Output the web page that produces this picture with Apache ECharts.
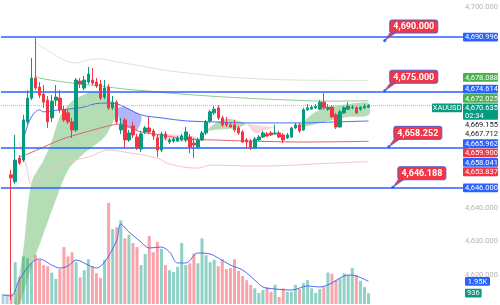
<!DOCTYPE html>
<html lang="en">
<head>
<meta charset="UTF-8">
<title>XAUUSD</title>
<script src="https://cdn.jsdelivr.net/npm/echarts@6/dist/echarts.min.js"></script>
<style>
  html, body { margin: 0; padding: 0; background: #fff; }
  #chart { width: 500px; height: 305px; }
</style>
</head>
<body>
<div id="chart"></div>
<script>
// time slots on the x axis: bars + the empty margin on the right
const slotCount = 115;
const firstBar = 2;

// candles from slot 2 on: [open, close, low, high]
const ohlc = [
  [4649.9, 4649.0, 4612.5, 4651.3], [4647.8, 4654.3, 4647.2, 4661.8], [4654.9, 4653.4, 4652.8, 4655.8],
  [4654.3, 4666.3, 4653.7, 4667.8], [4665.7, 4672.8, 4665.1, 4675.2], [4672.8, 4678.8, 4672.2, 4684.8],
  [4678.8, 4675.8, 4675.2, 4690.7], [4676.1, 4673.7, 4672.8, 4677.6], [4674.0, 4671.6, 4669.9, 4676.7],
  [4672.2, 4665.7, 4663.9, 4673.4], [4666.9, 4671.9, 4665.7, 4673.7], [4672.2, 4673.1, 4670.4, 4676.7],
  [4672.8, 4669.3, 4668.4, 4675.2], [4669.3, 4666.3, 4665.7, 4670.4], [4668.4, 4665.7, 4665.1, 4669.3],
  [4665.7, 4663.3, 4660.9, 4666.9], [4663.3, 4678.2, 4662.7, 4678.8], [4677.9, 4677.0, 4675.8, 4678.8],
  [4675.8, 4678.2, 4675.2, 4679.4], [4677.6, 4680.0, 4677.0, 4682.1], [4678.2, 4677.3, 4676.7, 4681.8],
  [4677.6, 4676.4, 4675.8, 4678.8], [4677.0, 4672.8, 4672.2, 4678.2], [4673.1, 4675.8, 4672.5, 4678.2],
  [4676.1, 4669.9, 4669.3, 4677.0], [4669.9, 4671.6, 4669.3, 4673.4], [4671.6, 4665.7, 4665.1, 4672.2],
  [4663.3, 4664.8, 4662.1, 4666.9], [4666.3, 4660.3, 4657.9, 4666.9], [4660.3, 4662.4, 4659.7, 4663.3],
  [4664.5, 4661.8, 4660.9, 4665.7], [4661.2, 4657.9, 4657.3, 4662.1], [4657.6, 4662.1, 4656.7, 4663.0],
  [4662.7, 4663.9, 4662.1, 4664.5], [4663.9, 4662.7, 4662.1, 4667.2], [4663.0, 4661.5, 4660.3, 4663.6],
  [4660.9, 4657.3, 4655.2, 4661.8], [4657.3, 4662.1, 4656.7, 4662.7], [4662.1, 4660.9, 4660.3, 4663.0],
  [4659.7, 4660.3, 4659.1, 4660.9], [4660.0, 4660.6, 4659.4, 4661.2], [4660.0, 4660.9, 4659.7, 4661.5],
  [4660.3, 4661.5, 4660.0, 4662.1], [4660.3, 4662.7, 4659.7, 4664.2], [4661.2, 4658.2, 4656.4, 4662.1],
  [4659.4, 4658.8, 4654.9, 4660.9], [4658.2, 4660.3, 4657.9, 4660.9], [4660.3, 4662.4, 4660.0, 4663.0],
  [4662.4, 4665.7, 4661.8, 4666.3], [4666.0, 4668.7, 4665.4, 4669.3], [4668.4, 4669.5, 4667.8, 4670.4],
  [4669.9, 4666.9, 4666.3, 4670.7], [4666.9, 4664.8, 4664.2, 4667.5], [4665.4, 4664.8, 4664.2, 4667.2],
  [4664.8, 4664.2, 4663.9, 4665.4], [4664.8, 4663.3, 4662.7, 4666.3], [4663.9, 4662.4, 4661.8, 4664.5],
  [4662.7, 4659.7, 4659.4, 4663.3], [4660.3, 4659.7, 4657.9, 4660.9], [4660.0, 4657.9, 4657.3, 4660.6],
  [4657.9, 4660.6, 4657.6, 4661.2], [4660.3, 4661.2, 4660.0, 4661.8], [4661.2, 4662.4, 4660.9, 4663.0],
  [4662.1, 4661.5, 4661.2, 4662.7], [4662.4, 4661.8, 4661.5, 4663.0], [4662.1, 4662.4, 4661.8, 4664.8],
  [4662.4, 4661.2, 4660.9, 4663.0], [4661.8, 4660.3, 4659.4, 4662.4], [4660.9, 4661.8, 4660.6, 4662.4],
  [4661.2, 4663.9, 4660.9, 4664.2], [4663.9, 4664.8, 4663.6, 4665.4], [4664.8, 4663.0, 4662.4, 4665.4],
  [4663.3, 4669.3, 4663.0, 4669.9], [4669.3, 4669.9, 4669.0, 4671.0], [4669.5, 4670.1, 4669.3, 4670.7],
  [4669.9, 4670.4, 4669.5, 4671.0], [4669.5, 4671.6, 4669.3, 4672.2], [4671.6, 4669.9, 4669.3, 4674.3],
  [4669.5, 4670.1, 4669.0, 4671.0], [4670.1, 4667.2, 4666.9, 4670.7], [4667.8, 4664.2, 4663.6, 4668.4],
  [4664.2, 4668.7, 4663.9, 4669.3], [4668.4, 4669.9, 4668.1, 4670.4], [4669.5, 4670.4, 4669.3, 4671.6],
  [4669.9, 4670.1, 4669.5, 4670.7], [4669.9, 4668.4, 4668.1, 4670.4], [4669.5, 4670.1, 4669.0, 4670.4],
  [4669.9, 4670.4, 4669.5, 4671.0], [4670.1, 4670.635, 4669.9, 4671.0]
];

// volume per slot, from slot 0
const volumes = [
  850, 850, 900, 3600, 2350, 4100, 3950, 3500, 4200, 3800,
  3350, 3250, 2700, 2150, 3000, 4900, 4100, 4450, 3600, 2300,
  2900, 3850, 3250, 2650, 2250, 3800, 8700, 6450, 6600, 7200,
  5650, 5950, 5250, 4900, 3350, 4300, 5850, 4450, 5350, 4750,
  3350, 2900, 2750, 3200, 5250, 3350, 3500, 4350, 3500, 5650,
  4200, 3600, 3800, 3250, 3850, 3000, 3100, 3850, 2850, 2400,
  2050, 1650, 1350, 950, 1200, 1450, 1050, 1650, 600, 1350,
  1050, 1050, 1650, 1300, 1800, 2050, 1350, 950, 1300, 1450,
  2700, 2600, 2050, 2200, 2650, 2500, 3100, 2500, 2000, 1450,
  936
];
const volumeMa = [[0, 780], [2, 690], [4, 2060], [7, 3530], [9, 3870], [12, 3350], [14, 3100], [16, 3270],
  [18, 3780], [21, 3350], [23, 3100], [25, 3610], [28, 5500], [29, 6880], [31, 6200], [34, 5330], [36, 4820],
  [39, 4900], [41, 4470], [43, 3530], [45, 3530], [48, 4390], [51, 4300], [53, 3960], [56, 3350], [59, 2920],
  [62, 2060], [64, 1460], [67, 1290], [71, 1200], [75, 1550], [78, 1460], [81, 1810], [83, 2240], [85, 2490],
  [87, 2410], [90, 1950]];

// indicator lines, [slot, price]
const maBlue = [[5, 4660.3], [6, 4664.5], [7, 4667.2], [8, 4668.7], [9, 4669.3], [10, 4668.7], [14, 4669.3],
  [19, 4669.9], [24, 4671.3], [27, 4671.3], [30, 4670.1], [34, 4667.8], [39, 4666.9], [45, 4666.0], [52, 4665.7],
  [60, 4665.4], [66, 4665.4], [74, 4665.4], [82, 4665.7], [90, 4665.962]];
const maRed = [[4, 4655.2], [6, 4656.1], [10, 4658.2], [14, 4660.3], [17, 4661.5], [24, 4663.9], [27, 4664.8],
  [29, 4665.1], [31, 4664.2], [34, 4662.7], [39, 4661.8], [45, 4660.6], [52, 4660.3], [60, 4660.0], [74, 4659.7],
  [90, 4659.9]];
const bandInner = [[8, 4679.5], [9, 4678.8], [15, 4677.6], [19, 4677.0], [24, 4676.4], [30, 4675.5], [36, 4674.9],
  [41, 4674.3], [55, 4673.1], [71, 4672.2], [80, 4671.9], [90, 4672.025]];
const bandOuter = [[8, 4689.3], [12, 4686.3], [15, 4684.2], [18, 4683.3], [21, 4684.2], [24, 4684.5], [28, 4683.6],
  [34, 4682.4], [41, 4680.9], [59, 4678.8], [80, 4678.1], [90, 4678.088]];
const bandLower = [[4, 4659.7], [6, 4651.3], [7, 4646.9], [9, 4649.0], [11, 4651.0], [16, 4653.7], [21, 4655.2],
  [26, 4657.3], [30, 4656.7], [38, 4654.9], [41, 4653.1], [48, 4651.9], [51, 4652.8], [63, 4652.5], [81, 4653.4],
  [90, 4653.837]];

// cloud edges, [slot, price]
const cloud1Top = [[3, 4612.5], [5, 4627.5], [7, 4647.5], [10, 4654.3], [12, 4660.0], [14, 4667.2], [17, 4671.9],
  [21, 4674.3], [23, 4674.6], [25, 4673.7], [27, 4671.3], [28, 4669.6]];
const cloud1Base = [[3, 4611.1], [4, 4611.1], [7, 4622.4], [10, 4632.5], [13, 4642.4], [16, 4651.3], [20, 4656.4],
  [22, 4658.2], [25, 4661.2], [27, 4665.4], [28, 4668.4]];
const cloud2Top = [[28, 4669.9], [30, 4670.1], [33, 4668.4], [34, 4667.5]];
const cloud2Base = [[28, 4669.9], [29, 4665.1], [31, 4663.9], [33, 4663.3], [34, 4666.0]];
const cloud3Top = [[36, 4662.1], [40, 4662.1], [44, 4661.8], [48, 4661.2], [49, 4660.9]];
const cloud3Base = [[36, 4662.1], [40, 4660.0], [44, 4659.7], [48, 4660.3], [49, 4660.9]];
const cloud4Top = [[50, 4663.0], [52, 4665.1], [55, 4666.6], [58, 4666.0], [60, 4665.2]];
const cloud4Base = [[50, 4663.0], [52, 4663.3], [55, 4663.6], [58, 4663.9], [60, 4665.2]];
const cloud5Top = [[60, 4665.2], [62, 4664.8], [64, 4664.5], [67, 4664.2]];
const cloud5Base = [[60, 4665.2], [62, 4662.4], [64, 4663.0], [67, 4664.2]];
const cloud6Top = [[72, 4663.9], [74, 4665.7], [77, 4668.7], [81, 4670.4], [85, 4671.0], [90, 4671.3]];
const cloud6Base = [[72, 4663.9], [74, 4664.2], [77, 4665.1], [81, 4666.3], [85, 4667.2], [90, 4667.7]];

// drawn horizontal levels and callouts
const levelLines = [4690.996, 4674.614, 4658.041, 4646.000];
const calloutSlots = [94, 94, 95, 96];
const calloutPrices = [4690.000, 4675.000, 4658.252, 4646.188];

const lastPrice = 4670.635;
const countdown = '02:34';
const symbol = 'XAUUSD';

// price scale tags, top to bottom
const tagValues = [4690.996, 4678.088, 4674.614, 4672.025, 4670.635, 4669.155, 4667.712, 4665.962, 4659.900, 4658.041, 4653.837, 4646.000];
const tagKinds = ['blue', 'green', 'blue', 'green', 'last', 'plain', 'plain', 'blue', 'red', 'blue', 'red', 'blue'];
const volTagValues = [1950, 936];
const volTagTexts = ['1.95K', '936'];
const volTagKinds = ['blue', 'last'];

const BLUE = '#2962ff', UP = '#089981', DOWN = '#f23645';
const tagColors = { blue: BLUE, green: '#4caf50', last: UP, red: DOWN, plain: null };
const FONT = 'Roboto, "Liberation Sans", sans-serif';

const chart = echarts.init(document.getElementById('chart'));

function fmt(v) {
  return v.toLocaleString('en-US', { minimumFractionDigits: 3, maximumFractionDigits: 3 });
}

const slots = Array.from({ length: slotCount }, (_, i) => i);
const candleData = slots.slice(0, firstBar + ohlc.length).map(i => ohlc[i - firstBar] || '-');
const volumeData = volumes.map((v, i) => {
  const k = ohlc[i - firstBar];
  let c = '#b9cfe6';
  if (k) c = k[1] >= k[0] ? 'rgba(8,153,129,0.45)' : 'rgba(242,54,69,0.45)';
  return { value: v, itemStyle: { color: c } };
});

function line(data, color, width) {
  return {
    type: 'line', xAxisIndex: 0, yAxisIndex: 0, data: data, smooth: 0.35,
    showSymbol: false, silent: true, z: 3, lineStyle: { color: color, width: width }
  };
}

function cloud(top, base, fill) {
  return {
    type: 'custom', xAxisIndex: 0, yAxisIndex: 0, silent: true, z: 2, data: top,
    renderItem: function (params, api) {
      if (params.dataIndex !== 0) return null;
      const pts = top.map(p => api.coord(p)).concat(base.slice().reverse().map(p => api.coord(p)));
      return { type: 'polygon', shape: { points: pts, smooth: 0.3 }, style: { fill: fill } };
    }
  };
}

const GREEN_FILL = 'rgba(76,175,80,0.42)';
const option = {
  animation: false,
  backgroundColor: '#ffffff',
  grid: [
    { left: 1, right: 32, top: -26.5, bottom: -3.5, containLabel: false, outerBoundsMode: 'none' },
    { left: 1, right: 32, top: 200, bottom: 1, containLabel: false, outerBoundsMode: 'none' }
  ],
  xAxis: [
    { type: 'category', gridIndex: 0, data: slots, show: false, boundaryGap: true },
    { type: 'category', gridIndex: 1, data: slots, show: false, boundaryGap: true }
  ],
  yAxis: [
    {
      type: 'value', gridIndex: 0, position: 'right', min: 4610, max: 4710, interval: 10, scale: true,
      splitLine: { show: false }, axisLine: { show: false }, axisTick: { show: false },
      axisLabel: { color: '#b2b5be', fontSize: 7.5, fontFamily: FONT, margin: -3, formatter: v => fmt(v) }
    },
    {
      type: 'value', gridIndex: 1, min: 0, max: 8950, show: false
    }
  ],
  series: [
    {
      type: 'bar', xAxisIndex: 1, yAxisIndex: 1, data: volumeData, barWidth: 3, silent: true, z: 1
    },
    {
      type: 'line', xAxisIndex: 1, yAxisIndex: 1, data: volumeMa, smooth: 0.35, showSymbol: false, silent: true,
      z: 2, lineStyle: { color: '#4a6cf0', width: 1 }
    },
    cloud(cloud1Top, cloud1Base, GREEN_FILL),
    cloud(cloud2Top, cloud2Base, 'rgba(98,110,245,0.5)'),
    cloud(cloud3Top, cloud3Base, 'rgba(242,54,69,0.2)'),
    cloud(cloud4Top, cloud4Base, GREEN_FILL),
    cloud(cloud5Top, cloud5Base, 'rgba(242,54,69,0.2)'),
    cloud(cloud6Top, cloud6Base, GREEN_FILL),
    line(bandOuter, '#d3e7d3', 1),
    line(bandInner, '#93c796', 1),
    line(bandLower, '#f3c4cb', 1),
    line(maRed, '#d9676a', 1),
    line(maBlue, '#4a6cf0', 1),
    {
      type: 'candlestick', xAxisIndex: 0, yAxisIndex: 0, data: candleData, barWidth: 3, z: 5, silent: true,
      itemStyle: { color: UP, color0: DOWN, borderColor: UP, borderColor0: DOWN, borderWidth: 1 },
      markLine: {
        symbol: 'none', silent: true, label: { show: false },
        data: levelLines.map(v => ({ yAxis: v, lineStyle: { color: BLUE, width: 1.5, type: 'solid' } }))
          .concat([{ yAxis: lastPrice, lineStyle: { color: '#93cfc4', width: 1, type: 'dotted' } }])
      }
    },
    {
      type: 'custom', xAxisIndex: 0, yAxisIndex: 0, silent: true, z: 8,
      data: calloutSlots.map((s, i) => [s, calloutPrices[i]]),
      renderItem: function (params, api) {
        const p = api.coord([api.value(0), api.value(1)]);
        const bx = p[0] + 5, by = p[1] - 20.5, w = 48, h = 13;
        return {
          type: 'group',
          children: [
            { type: 'polygon', shape: { points: [[p[0], p[1]], [bx + 1, by + h - 1], [bx + 7, by + h - 1]] },
              style: { fill: DOWN, stroke: '#4c5fd5', lineWidth: 0.8 } },
            { type: 'rect', shape: { x: bx, y: by, width: w, height: h, r: 2 },
              style: { fill: DOWN, stroke: '#4c5fd5', lineWidth: 1 } },
            { type: 'text', style: { text: fmt(api.value(1)), x: bx + w / 2, y: by + h / 2 + 0.5,
              align: 'center', verticalAlign: 'middle', textAlign: 'center', textVerticalAlign: 'middle',
              fill: '#ffffff', font: 'bold 9px ' + FONT } },
            { type: 'circle', shape: { cx: p[0], cy: p[1], r: 1.6 }, style: { fill: BLUE } }
          ]
        };
      }
    }
  ]
};

chart.setOption(option);

// price scale tags are pushed apart the way the trading terminal stacks them
function layoutTags() {
  const rowH = 9.4;
  const items = tagValues.map((v, i) => ({
    v: v, kind: tagKinds[i], want: chart.convertToPixel({ yAxisIndex: 0 }, v),
    h: tagKinds[i] === 'last' ? 16.9 : rowH
  }));
  items.sort((a, b) => a.want - b.want);
  const clusters = [];
  let bottom = -Infinity, cluster = null;
  items.forEach(it => {
    let top = it.want - rowH / 2;
    if (cluster && top < bottom + 3) {
      top = Math.max(top, bottom);
      cluster.push(it);
    } else {
      cluster = [it];
      clusters.push(cluster);
    }
    it.top = top;
    bottom = top + it.h;
  });
  clusters.forEach(c => { if (c.length > 1) c.forEach(it => { it.top -= 3; }); });
  return items;
}

function textEl(x, y, text, fill, align) {
  return {
    type: 'text', silent: true, z: 100,
    style: { text: text, x: x, y: y, fill: fill, font: '7.5px ' + FONT,
      align: align || 'left', verticalAlign: 'middle', textAlign: align || 'left', textVerticalAlign: 'middle' }
  };
}

const tags = layoutTags();
const els = [];
const rowH = 9.4;
tags.forEach(t => {
  const bg = tagColors[t.kind];
  const cy = t.top + rowH / 2;
  if (bg) {
    els.push({ type: 'rect', silent: true, z: 99, shape: { x: 463, y: t.top + 0.3, width: 35, height: t.h - 0.6, r: 1 }, style: { fill: bg } });
  }
  els.push(textEl(465, cy + 0.3, fmt(t.v), bg ? '#ffffff' : '#131722'));
  if (t.kind === 'last') {
    els.push(textEl(465, cy + 8.3, countdown, '#ffffff'));
    els.push({ type: 'rect', silent: true, z: 99, shape: { x: 432, y: t.top + 0.3, width: 30, height: rowH - 0.6, r: 1 }, style: { fill: UP } });
    els.push(textEl(447, cy + 0.3, symbol, '#ffffff', 'center'));
  }
});
volTagValues.forEach((v, i) => {
  const cy = chart.convertToPixel({ yAxisIndex: 1 }, v);
  const w = volTagTexts[i].length * 4.2 + 4;
  els.push({ type: 'rect', silent: true, z: 99, shape: { x: 465, y: cy - 4.4, width: w, height: 8.8, r: 1 }, style: { fill: tagColors[volTagKinds[i]] } });
  els.push(textEl(465 + w / 2, cy + 0.3, volTagTexts[i], '#ffffff', 'center'));
});

// scale values that sit under a tag are not printed
const hidden = {};
for (let v = 4610; v <= 4710; v += 10) {
  const py = chart.convertToPixel({ yAxisIndex: 0 }, v);
  if (tags.some(t => py > t.top - 4 && py < t.top + t.h + 4)) hidden[v] = true;
}

chart.setOption({
  yAxis: [{ axisLabel: { formatter: v => hidden[v] ? '' : fmt(v) } }],
  graphic: { elements: els }
});
</script>
</body>
</html>
